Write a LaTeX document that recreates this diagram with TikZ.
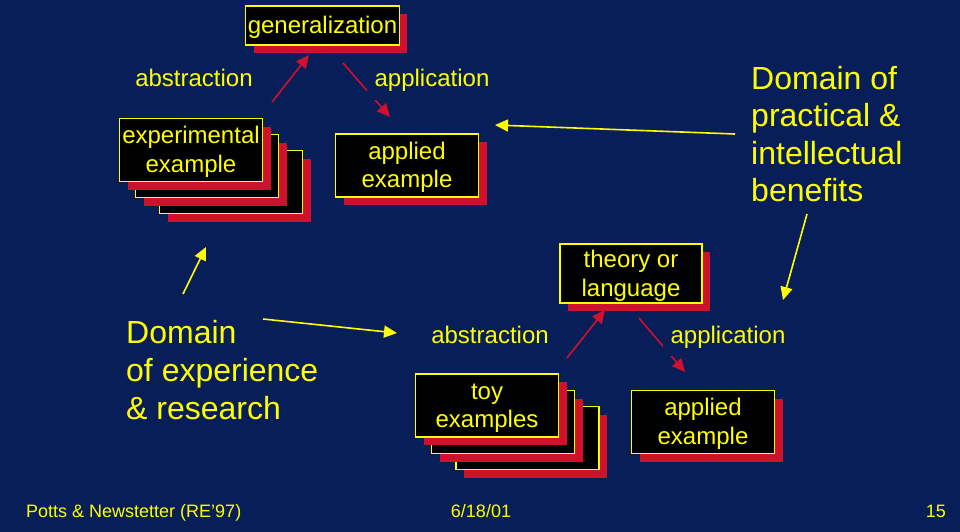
\documentclass[tikz,border=0pt]{standalone}
\usepackage{fontspec}
\setmainfont{Liberation Sans}
\usepackage{xcolor}
\definecolor{navy}{HTML}{081E58}
\definecolor{ylw}{HTML}{FFFF00}
\definecolor{crim}{HTML}{D0112E}
\usetikzlibrary{arrows.meta,shadows}
\tikzset{
  >={Triangle[length=13pt,width=12pt]},
  card/.style={draw=ylw,fill=black,line width=1.3pt,text=ylw,align=center,inner sep=2pt,
    font=\fontsize{24}{28.5}\selectfont,text depth=5pt,
    drop shadow={shadow xshift=8pt,shadow yshift=-8pt,fill=crim,opacity=1}},
  wcard/.style={card,minimum width=143pt,minimum height=63pt,text height=49pt},
  lbl/.style={text=ylw,fill=navy,inner sep=8pt,anchor=base,font=\fontsize{24}{28}\selectfont},
  big/.style={text=ylw,align=left,inner sep=0pt,anchor=north west,font=\fontsize{32}{38}\selectfont},
  foot/.style={text=ylw,inner sep=0pt,font=\fontsize{18}{22}\selectfont},
  rarr/.style={->,draw=crim,line width=1.6pt},
  yarr/.style={->,draw=ylw,line width=1.6pt},
}

\begin{document}
\begin{tikzpicture}[x=1pt,y=-1pt]
% slide background
\fill[navy] (0,0) rectangle (960,532);
\useasboundingbox (0,0) rectangle (960,532);

% upper triangle: experiment -> generalization -> application
\node[card,minimum width=151pt,minimum height=39pt,text height=22pt] (gen) at (322.5,25.5) {generalization};
\node[wcard] (exp3) at (231,182) {};
\node[wcard] (exp2) at (207,166) {};
\node[wcard] (exp1) at (191,150) {experimental\\example};
\node[wcard] (app1) at (407,165.5) {applied\\example};

% lower triangle: toy examples -> theory -> application
\node[wcard,minimum width=142pt,minimum height=55pt,text height=50pt] (thy) at (631,273.5) {theory or\\language};
\node[wcard] (toy3) at (527.5,438) {};
\node[wcard] (toy2) at (503,422) {};
\node[wcard] (toy1) at (487,405.5) {toy\\examples};
\node[wcard] (app2) at (703,422) {applied\\example};

% arrow end points
\coordinate (ra1) at (272,102); \coordinate (ra2) at (309,55);
\coordinate (rp1) at (343,63);  \coordinate (rp2) at (390,117);
\coordinate (rb1) at (567,358); \coordinate (rb2) at (605,310);
\coordinate (rq1) at (639,318); \coordinate (rq2) at (685,372);
\coordinate (ya1) at (183,294); \coordinate (ya2) at (206,247);
\coordinate (yb1) at (263,319); \coordinate (yb2) at (397,333);
\coordinate (yc1) at (735,134); \coordinate (yc2) at (495,125);
\coordinate (yd1) at (807,214); \coordinate (yd2) at (783,300);

\draw[rarr] (ra1) -- (ra2);
\draw[rarr] (rp1) -- (rp2);
\draw[rarr] (rb1) -- (rb2);
\draw[rarr] (rq1) -- (rq2);
\draw[yarr] (ya1) -- (ya2);
\draw[yarr] (yb1) -- (yb2);
\draw[yarr] (yc1) -- (yc2);
\draw[yarr] (yd1) -- (yd2);

% arrow labels (filled, they cut the application arrows)
\node[lbl] (abs1) at (194,87) {abstraction};
\node[lbl] (apl1) at (432,87) {application};
\node[lbl] (abs2) at (490,343) {abstraction};
\node[lbl] (apl2) at (728,343) {application};

% domains
\node[big] (domx) at (126,320) {Domain\\of experience\\\& research};
\node[big,font=\fontsize{32}{37.4}\selectfont] (domp) at (751,66) {Domain of\\practical \&\\intellectual\\benefits};

% footer
\node[foot,anchor=base west] (auth) at (26,517) {Potts \& Newstetter (RE'97)};
\node[foot,anchor=base] (date) at (481,517) {6/18/01};
\node[foot,anchor=base east] (page) at (946,517) {15};
\end{tikzpicture}
\end{document}
